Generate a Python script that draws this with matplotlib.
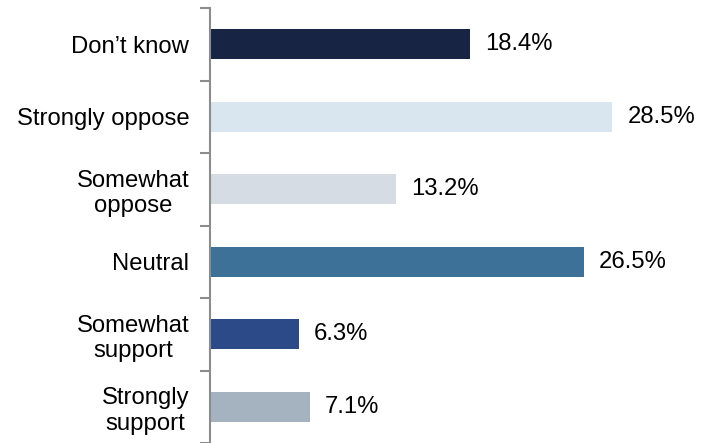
import numpy as np
import matplotlib.pyplot as plt

plt.rcParams['font.family'] = ['Liberation Sans', 'DejaVu Sans']

categories = ["Strongly\nsupport", "Somewhat\nsupport", "Neutral",
              "Somewhat\noppose", "Strongly oppose", "Don\u2019t know"]
values = [7.1, 6.3, 26.5, 13.2, 28.5, 18.4]
colors = ["#a5b2c0", "#2c4a87", "#3d7197", "#d5dce3", "#d9e6f0", "#172444"]

fig = plt.figure(figsize=(7.05, 4.43), dpi=100)
ax = fig.add_axes([210 / 705, 0.0, 1 - 210 / 705, 1 - 8 / 443])

y = np.arange(len(categories))
ax.barh(y, values, height=0.41, color=colors)

for yi, v in zip(y, values):
    ax.text(v + 1.05, yi, f"{v:.1f}%", va="center", ha="left", fontsize=17.2)

ax.set_xlim(0, 35.05)
ax.set_ylim(-0.5, 5.5)
ax.set_yticks(y)
ax.set_yticklabels(categories, fontsize=17.2, multialignment="center")
ax.tick_params(axis="y", which="major", length=0, pad=15)
ax.set_yticks(np.arange(-0.5, 6, 1), minor=True)
ax.tick_params(axis="y", which="minor", length=7, width=1.5, color="#8c8c8c")
ax.set_xticks([])

for s in ["top", "right", "bottom"]:
    ax.spines[s].set_visible(False)
ax.spines["left"].set_color("#8c8c8c")
ax.spines["left"].set_linewidth(1.5)

fig.savefig("out.png", dpi=100)
